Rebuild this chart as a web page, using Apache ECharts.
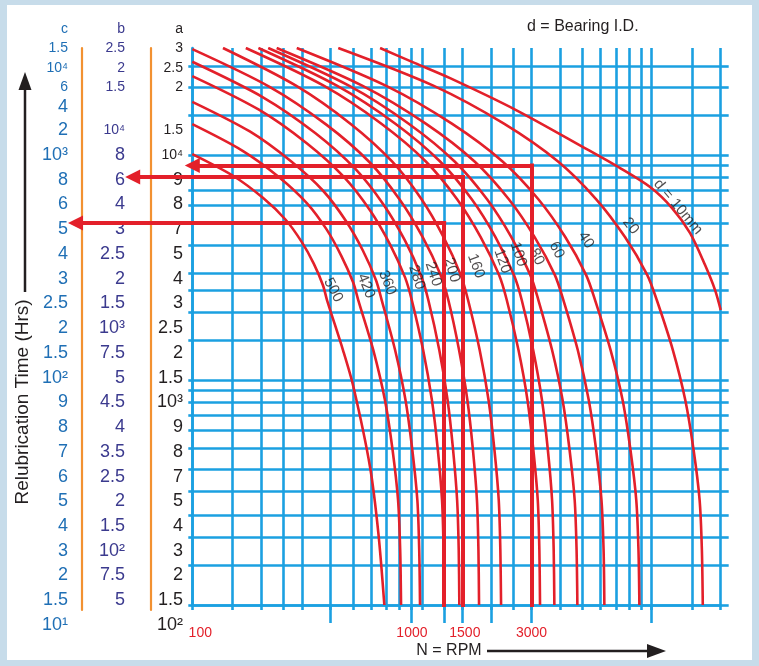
<!DOCTYPE html>
<html><head><meta charset="utf-8">
<script src="https://cdn.jsdelivr.net/npm/echarts@6/dist/echarts.min.js"></script>
<style>
html,body{margin:0;padding:0;background:#c7dcea;width:759px;height:666px;overflow:hidden;}
#panel{position:absolute;left:7px;top:5px;width:745px;height:655px;background:#fff;}
#chart{position:absolute;left:0;top:0;width:759px;height:666px;}
</style></head><body>
<div id="panel"></div>
<div id="chart"></div>
<script>
// ---------------- DATA ----------------
// speed axis (N = RPM), log scale
const rpmGridValues = [100,150,200,250,300,400,500,600,700,800,900,1000,1250,1500,2000,2500,3000,4000,5000,6000,7000,8000,9000,10000,15000,20000];
const rpmLongTicks = [400,900,1250,1500,2000,3000,10000];
const rpmLabelValues = [100,1000,1500,3000];
const rpmLabels = ['100','1000','1500','3000'];
// relubrication-time grid (scale a), log scale
const hoursGridValues = [100,150,200,250,320,400,500,600,700,800,900,1000,1500,2000,2500,3000,4000,5000,6000,7000,8000,9000,10000,15000,20000,25000];

// tick label columns (c, b, a)
const colCTop = ['1.5','10⁴','6','4'];
const colCLow = ['2','10³','8','6','5','4','3','2.5','2','1.5','10²','9','8','7','6','5','4','3','2','1.5','10¹'];
const colBTop = ['2.5','2','1.5'];
const colBLow = ['10⁴','8','6','4','3','2.5','2','1.5','10³','7.5','5','4.5','4','3.5','2.5','2','1.5','10²','7.5','5'];
const colATop = ['3','2.5','2'];
const colALow = ['1.5','10⁴','9','8','7','5','4','3','2.5','2','1.5','10³','9','8','7','5','4','3','2','1.5','10²'];

// curves: bearing bore d (mm) -> [N (rpm), t (hrs)]
const curveNames = ['500','420','360','280','240','200','160','120','100','80','60','40','20','d = 10mm'];
const d500 = [[100,10120],[151,8089],[203,6466],[255,5167],[299,4129],[338,3299],[371,2637],[386,2271],[453,1361],[503,935],[594,412],[646,209],[686,100]];
const d420 = [[100,13760],[165,10500],[238,8015],[316,6118],[385,4669],[446,3563],[502,2718],[528,2271],[614,1361],[690,816],[745,489],[787,293],[804,176],[811,100]];
const d360 = [[100,17290],[178,12760],[269,9403],[372,6937],[466,5114],[553,3773],[631,2780],[668,2271],[764,1361],[848,816],[908,489],[955,293],[973,176],[981,100]];
const d280 = [[100,22500],[195,15950],[315,11310],[457,8015],[595,5683],[725,4029],[845,2857],[903,2271],[1012,1361],[1105,816],[1173,489],[1223,293],[1243,176],[1252,100]];
const d240 = [[100,26050],[204,18070],[344,12530],[513,8693],[681,6025],[843,4180],[993,2897],[1066,2271],[1190,1361],[1293,816],[1367,489],[1423,293],[1446,176],[1455,100]];
const d200 = [[100,29660],[217,20160],[382,13720],[590,9336],[801,6348],[1009,4314],[1206,2936],[1303,2271],[1451,1361],[1577,816],[1668,489],[1736,293],[1762,176],[1773,100]];
const d160 = [[136,30000],[284,20350],[488,13820],[741,9385],[996,6374],[1242,4328],[1475,2939],[1588,2271],[1784,1361],[1950,816],[2069,489],[2160,293],[2195,176],[2211,100]];
const d120 = [[171,30000],[375,20350],[666,13820],[1040,9385],[1423,6374],[1802,4328],[2165,2939],[2341,2271],[2633,1361],[2881,816],[3056,489],[3194,293],[3246,176],[3268,100]];
const d100 = [[194,30000],[428,20350],[766,13820],[1200,9385],[1648,6374],[2090,4328],[2513,2939],[2720,2271],[3050,1361],[3332,816],[3535,489],[3687,293],[3747,176],[3773,100]];
const d80  = [[214,30000],[483,20350],[876,13820],[1388,9385],[1921,6374],[2451,4328],[2963,2939],[3214,2271],[3687,1361],[4097,816],[4395,489],[4625,293],[4714,176],[4752,100]];
const d60  = [[233,30000],[552,20350],[1039,13820],[1695,9385],[2390,6374],[3096,4328],[3789,2939],[4130,2271],[4771,1361],[5326,816],[5737,489],[6051,293],[6180,176],[6229,100]];
const d40  = [[285,30000],[699,20350],[1350,13820],[2244,9385],[3214,6374],[4209,4328],[5184,2939],[5674,2271],[6630,1361],[7478,816],[8092,489],[8577,293],[8769,176],[8849,100]];
const d20  = [[432,30000],[1127,20350],[2276,13820],[3915,9385],[5742,6374],[7660,4328],[9569,2939],[10535,2271],[12380,1361],[14020,816],[15240,489],[16190,293],[16560,176],[16710,100]];
const d10  = [[657,30000],[933,25700],[1326,22030],[2570,15890],[5030,10876],[7292,8774],[9851,7222],[12283,5826],[14716,4510],[17100,3249],[18905,2515],[20000,2050]];
const curves = [d500,d420,d360,d280,d240,d200,d160,d120,d100,d80,d60,d40,d20,d10];

// where each curve's label sits [N, t]
const curveLabelAt = [[411,2515],[571,2620],[707,2711],[949,2865],[1121,2964],[1349,3088],[1720,3217],[2239,3385],[2630,3626],[3162,3538],[3865,3789],[5184,4198],[8117,4844],[13046,5886]];

// example read-off arrows: speed, time level (scale a), end of arrow
const arrowRpm = [3000,1500,1250];
const arrowHours = [9000,8000,5000];
const arrowEnd = [100,55,31];

// ---------------- STYLE ----------------
const BLUE = '#1ba0e1', RED = '#e3202a', ORANGE = '#f29131', INK = '#231f20';
const COL_C = '#1f6fb5', COL_B = '#3b3a8e', COL_A = '#231f20';
const FONT = '"Liberation Sans", Arial, sans-serif';
const labelRot = [-62,-68,-68,-72,-72,-73,-70,-70,-72,-63,-63,-58,-52,-50];

const chart = echarts.init(document.getElementById('chart'), null, {renderer:'canvas'});

// label-column layout: right edge x of each column, and row bands
const colRight = {c:68, b:125, a:183};
const topBand = {top:48, height:59};
const lowBand = {top:130.3, height:494.7};

const grids = [{left:192.3, right:38.3, top:48, bottom:61}];
const xAxes = [];
const yAxes = [];
function addColumn(key, data, slots, color, smallSet, name, band) {
  const gi = grids.length;
  grids.push({left:colRight[key], width:1, top:band.top, height:band.height});
  xAxes.push({gridIndex:gi, type:'value', show:false});
  yAxes.push({
    gridIndex:gi, type:'category', inverse:true, boundaryGap:false,
    data: data.map((v,i)=>({value:v, textStyle:{fontSize: smallSet.includes(i)?14:18}})),
    min:0, max:slots-1, position:'left', offset:0,
    axisLine:{show:false}, axisTick:{show:false}, splitLine:{show:false},
    axisLabel:{show:true, interval:0, margin:0, color, fontFamily:FONT, fontSize:18},
    name: name || '', nameLocation:'start', nameGap:12, nameMoveOverlap:false,
    nameTextStyle:{color, fontSize:14, fontFamily:FONT, align:'right'}
  });
}
function addOrangeRule(x) {
  const gi = grids.length;
  grids.push({left:x, width:1, top:48, height:562});
  xAxes.push({gridIndex:gi, type:'value', show:false});
  yAxes.push({gridIndex:gi, type:'value', position:'left', offset:0,
    axisLine:{show:true, lineStyle:{color:ORANGE, width:2.2}},
    axisTick:{show:false}, axisLabel:{show:false}, splitLine:{show:false}});
}

const gridLine = {color:BLUE, width:2.6};
xAxes.push(
  {gridIndex:0, type:'log', logBase:10, min:100, max:20000,
    axisLine:{show:true, lineStyle:gridLine},
    axisTick:{show:true, customValues:rpmGridValues, length:5, lineStyle:gridLine},
    axisLabel:{show:false}, splitLine:{show:true, lineStyle:gridLine}},
  {gridIndex:0, type:'log', logBase:10, min:100, max:20000, position:'bottom',
    axisLine:{show:false},
    axisTick:{show:true, customValues:rpmLongTicks, length:18, lineStyle:gridLine},
    axisLabel:{show:true, customValues:rpmLabelValues, margin:21, color:RED, fontSize:14, fontFamily:FONT,
      formatter:(v)=>{
        const i = rpmLabelValues.findIndex(x=>Math.abs(Math.log10(x)-Math.log10(v))<1e-4);
        return i<0 ? '' : '{p'+i+'|'+rpmLabels[i]+'}';
      },
      rich:{
        p0:{padding:[0,0,0,16], color:RED, fontSize:14, fontFamily:FONT},
        p1:{padding:[0,20,0,0], color:RED, fontSize:14, fontFamily:FONT},
        p2:{padding:[0,0,0,5], color:RED, fontSize:14, fontFamily:FONT},
        p3:{color:RED, fontSize:14, fontFamily:FONT}
      }},
    splitLine:{show:false}}
);
yAxes.push(
  {gridIndex:0, type:'log', logBase:10, min:100, max:30000, position:'left',
    axisLine:{show:true, lineStyle:gridLine},
    axisTick:{show:true, customValues:hoursGridValues, length:4, lineStyle:gridLine},
    axisLabel:{show:false}, splitLine:{show:true, lineStyle:gridLine}},
  {gridIndex:0, type:'log', logBase:10, min:100, max:30000, position:'right',
    axisLine:{show:false},
    axisTick:{show:true, customValues:hoursGridValues, length:8, lineStyle:gridLine},
    axisLabel:{show:false}, splitLine:{show:false}}
);
addColumn('c', colCTop, 4, COL_C, [0,1,2], 'c', topBand);
addColumn('b', colBTop, 4, COL_B, [0,1,2], 'b', topBand);
addColumn('a', colATop, 4, COL_A, [0,1,2], 'a', topBand);
addColumn('c', colCLow, 21, COL_C, [], '', lowBand);
addColumn('b', colBLow, 21, COL_B, [0], '', lowBand);
addColumn('a', colALow, 21, COL_A, [0,1], '', lowBand);
addOrangeRule(81.7);
addOrangeRule(150.3);

const option = {
  animation:false,
  textStyle:{fontFamily:FONT},
  title:{text:'d = Bearing I.D.', left:527, top:19, padding:0,
    textStyle:{fontSize:16, fontWeight:'normal', color:INK, fontFamily:FONT}},
  grid:grids, xAxis:xAxes, yAxis:yAxes,
  series:[
    ...curves.map((c,i)=>({
      type:'line', name:curveNames[i], xAxisIndex:0, yAxisIndex:0, data:c,
      showSymbol:false, smooth:0.3, lineStyle:{color:RED, width:2.6}, z:3
    })),
    {type:'scatter', xAxisIndex:0, yAxisIndex:0, symbolSize:0, z:4,
      data: curveLabelAt.map((p,i)=>({value:p, name:curveNames[i], label:{rotate:labelRot[i]}})),
      label:{show:true, position:'inside', formatter:'{b}', color:INK, fontSize:15, fontFamily:FONT}},
    {type:'lines', coordinateSystem:'cartesian2d', xAxisIndex:0, yAxisIndex:0, clip:false, z:5,
      lineStyle:{color:RED, width:4, opacity:1, cap:'square'},
      data: arrowRpm.map((r,i)=>({coords:[[r,100],[r,arrowHours[i]]]}))},
    {type:'lines', coordinateSystem:'cartesian2d', xAxisIndex:0, yAxisIndex:0, clip:false, z:5,
      symbol:['none','triangle'], symbolSize:[20,15],
      lineStyle:{color:RED, width:4, opacity:1, cap:'square'},
      data: arrowRpm.map((r,i)=>({coords:[[r,arrowHours[i]],[arrowEnd[i],arrowHours[i]]]}))}
  ],
  graphic:[
    {type:'text', x:23, y:402, rotation:Math.PI/2,
      style:{text:'Relubrication Time (Hrs)', fill:INK, font:'19px '+FONT, align:'center', verticalAlign:'middle'}},
    {type:'line', shape:{x1:25,y1:292,x2:25,y2:86}, style:{stroke:INK, lineWidth:2.5}},
    {type:'polygon', shape:{points:[[25,72],[18.5,90],[31.5,90]]}, style:{fill:INK}},
    {type:'text', x:449, y:651,
      style:{text:'N = RPM', fill:INK, font:'16px '+FONT, align:'center', verticalAlign:'middle'}},
    {type:'line', shape:{x1:487,y1:651,x2:650,y2:651}, style:{stroke:INK, lineWidth:2.5}},
    {type:'polygon', shape:{points:[[666,651],[647,644],[647,658]]}, style:{fill:INK}}
  ]
};
chart.setOption(option);
</script>
</body></html>
